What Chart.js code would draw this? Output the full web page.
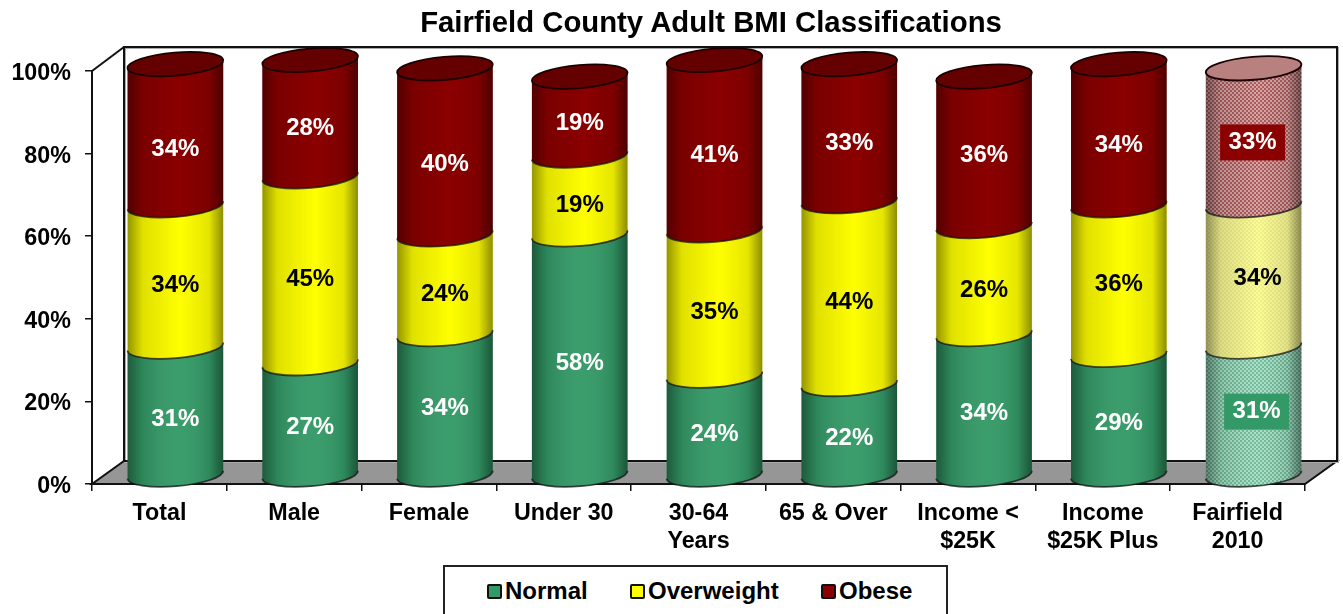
<!DOCTYPE html>
<html>
<head>
<meta charset="utf-8">
<title>Fairfield County Adult BMI Classifications</title>
<script src="https://cdn.jsdelivr.net/npm/chart.js@4/dist/chart.umd.min.js"></script>
<style>
  html, body { margin: 0; background: #fff; overflow: hidden; height: 614px; }
  #wrap { position: relative; width: 1343px; height: 614px; overflow: hidden; }
  #title {
    position: absolute; left: 311px; top: 5px; width: 800px; text-align: center;
    font: bold 29.3px/34px "Liberation Sans", Arial, sans-serif; color: #000; white-space: nowrap;
  }
  #legend {
    position: absolute; left: 443px; top: 565px; width: 505px; height: 60px;
    box-sizing: border-box; border: 2px solid #222; background: #fff;
    font: bold 24px "Liberation Sans", Arial, sans-serif; color: #000;
  }
  #legend span { position: absolute; top: 10px; line-height: 28px; }
  #legend i {
    position: absolute; top: 17px; width: 11px; height: 11px;
    border: 2px solid #111; border-radius: 2px;
  }
</style>
</head>
<body>
<div id="wrap">
  <canvas id="chart" width="1343" height="614"></canvas>
  <div id="title">Fairfield County Adult BMI Classifications</div>
  <div id="legend"></div>
</div>
<script>
const categories = ["Total", "Male", "Female", "Under 30", ["30-64", "Years"], "65 & Over", ["Income <", "$25K"], ["Income", "$25K Plus"], ["Fairfield", "2010"]];
const normal = [31, 27, 34, 58, 24, 22, 34, 29, 31];
const overweight = [34, 45, 24, 19, 35, 44, 26, 36, 34];
const obese = [34, 28, 40, 19, 41, 33, 36, 34, 33];
const seriesNames = ["Normal", "Overweight", "Obese"];
const seriesColors = ["#339966", "#ffff00", "#8b0000"];
const labelColors = ["#fff", "#000", "#fff"];

const FONT = '"Liberation Sans", Arial, sans-serif';
// 3d box offset of the back wall, cylinders sit half way in
const DEPTH_X = 32, DEPTH_Y = 23;
const RY = 11.5, TILT = -4.8 * Math.PI / 180;
// labels that were moved by hand in the original, "bar,series": dy
const labelNudge = { "0,2": 4, "2,0": -5, "2,2": 3, "3,2": -3, "6,2": -6, "7,1": -6 };

// Fairfield 2010 is drawn with a light dither
function dither(c1, c2) {
  const c = document.createElement("canvas");
  c.width = c.height = 4;
  const g = c.getContext("2d");
  g.fillStyle = c1; g.fillRect(0, 0, 4, 4);
  g.fillStyle = c2; g.fillRect(0, 0, 2, 2); g.fillRect(2, 2, 2, 2);
  return g.createPattern(c, "repeat");
}
const ctxMain = document.getElementById("chart").getContext("2d");
const ditherFills = [dither("#a9dfc6", "#6fba98"), dither("#fbfba6", "#f1f17c"), dither("#d2a8a8", "#b25c5c")];
const ditherTop = "#b98080";
const topColor = "#650000";
const lastIndex = categories.length - 1;

// the gray floor and the walls of the 3d box
const boxPlugin = {
  id: "box",
  beforeDatasetsDraw(chart) {
    const { ctx, chartArea: a } = chart;
    const bx = a.left + DEPTH_X, by = a.bottom - DEPTH_Y, ty = a.top - DEPTH_Y - 1;
    ctx.save();
    ctx.lineJoin = "miter";
    ctx.beginPath();
    ctx.moveTo(a.left, a.bottom); ctx.lineTo(a.right, a.bottom);
    ctx.lineTo(a.right + DEPTH_X, by); ctx.lineTo(bx, by); ctx.closePath();
    ctx.fillStyle = "#969696"; ctx.fill();
    ctx.strokeStyle = "#111"; ctx.lineWidth = 2; ctx.stroke();

    ctx.strokeStyle = "#aaa"; ctx.lineWidth = 2;
    ctx.strokeRect(bx + 1, ty + 1, a.right - a.left, by - ty);
    ctx.strokeStyle = "#111"; ctx.lineWidth = 2;
    ctx.strokeRect(bx, ty, a.right - a.left, by - ty);
    ctx.beginPath();
    ctx.moveTo(a.left, a.top); ctx.lineTo(bx, ty);
    ctx.stroke();
    ctx.restore();
  }
};

function arcPath(ctx, x, y, rx, from, to, ccw) {
  ctx.ellipse(x, y, rx, RY, TILT, from, to, ccw);
}

// pixel height of the cylinder axis, the projection is a bit flatter than the front plane
function cylY(chart, yPix) {
  const a = chart.chartArea;
  const frac = (a.bottom - yPix) / (a.bottom - a.top);
  return yPix - DEPTH_Y / 2 + 2.5 * (1 - frac) + 0.5;
}

function drawSegment(chart, el, fill, isTop, topFill, d) {
  const ctx = chart.ctx;
  const x = el.x + DEPTH_X / 2;
  const rx = el.width / 2;
  const y0 = cylY(chart, el.base);
  const y1 = cylY(chart, el.y);

  ctx.beginPath();
  arcPath(ctx, x, y0, rx, Math.PI, 0, true);
  arcPath(ctx, x, y1, rx, 0, Math.PI, true);
  ctx.closePath();
  ctx.fillStyle = fill;
  ctx.fill();

  const shade = ctx.createLinearGradient(x - rx, 0, x + rx, 0);
  shade.addColorStop(0, "rgba(0,0,0,.42)");
  shade.addColorStop(0.16, "rgba(0,0,0,.12)");
  shade.addColorStop(0.55, d === 0 ? "rgba(255,255,255,.04)" : "rgba(0,0,0,0)");
  shade.addColorStop(0.85, "rgba(0,0,0,.1)");
  shade.addColorStop(1, "rgba(0,0,0,.45)");
  ctx.fillStyle = shade;
  ctx.fill();

  ctx.strokeStyle = "rgba(20,20,20,.75)";
  ctx.lineWidth = 1.8;
  ctx.beginPath();
  arcPath(ctx, x, y0, rx, Math.PI, 0, true);
  ctx.stroke();

  if (isTop) {
    ctx.beginPath();
    arcPath(ctx, x, y1, rx, 0, Math.PI * 2);
    ctx.fillStyle = topFill;
    ctx.fill();
    ctx.strokeStyle = "#1a0000";
    ctx.stroke();
  }
}

// cylinders and percent labels, everything comes from the bar elements
const cylinderPlugin = {
  id: "cylinders",
  afterDatasetsDraw(chart) {
    const ctx = chart.ctx;
    ctx.save();
    categories.forEach((_, i) => {
      chart.data.datasets.forEach((ds, d) => {
        const el = chart.getDatasetMeta(d).data[i];
        const faded = i === lastIndex;
        const fill = faded ? ditherFills[d] : seriesColors[d];
        drawSegment(chart, el, fill, d === 2, faded ? ditherTop : topColor, d);
      });
    });
    ctx.font = "bold 24px " + FONT;
    ctx.textAlign = "center";
    ctx.textBaseline = "middle";
    categories.forEach((_, i) => {
      chart.data.datasets.forEach((ds, d) => {
        const el = chart.getDatasetMeta(d).data[i];
        let x = el.x + DEPTH_X / 2;
        let y = (el.y + el.base) / 2 + (labelNudge[i + "," + d] || 0);
        if (i === lastIndex) {
          x += [3, 4, -1][d];
          y += [-8, -7, -5][d];
          if (d !== 1) {
            ctx.fillStyle = seriesColors[d];
            ctx.fillRect(x - 32.5, y - 18, 65, 36);
          }
        }
        ctx.fillStyle = labelColors[d];
        ctx.fillText(ds.data[i] + "%", x, y);
      });
    });
    ctx.restore();
  }
};

new Chart(ctxMain, {
  type: "bar",
  data: {
    labels: categories,
    datasets: [normal, overweight, obese].map((values, d) => ({
      label: seriesNames[d],
      data: values,
      backgroundColor: "transparent",
      barPercentage: 0.712,
      categoryPercentage: 1
    }))
  },
  options: {
    responsive: false,
    animation: false,
    events: [],
    layout: { padding: { top: 71, right: 38 } },
    plugins: {
      legend: { display: false },
      tooltip: { enabled: false }
    },
    scales: {
      x: {
        stacked: true,
        afterFit(scale) { scale.height = 130; },
        grid: { drawOnChartArea: false, tickLength: 7, tickColor: "#111", lineWidth: 1.5 },
        border: { color: "#111", width: 2 },
        ticks: {
          color: "#000", maxRotation: 0, autoSkip: false, padding: 9,
          font: { family: FONT, size: 23.3, weight: "bold" }
        }
      },
      y: {
        stacked: true,
        min: 0,
        max: 100,
        afterFit(scale) { scale.width = 92; },
        grid: { drawOnChartArea: false, tickLength: 7, tickColor: "#111", lineWidth: 1.5 },
        border: { color: "#111", width: 2 },
        ticks: {
          color: "#000", stepSize: 20, padding: 14, labelOffset: 2.5,
          callback: v => v + "%",
          font: { family: FONT, size: 23.3, weight: "bold" }
        }
      }
    }
  },
  plugins: [boxPlugin, cylinderPlugin]
});

// html legend, same colours as the series
const legendBox = document.getElementById("legend");
const legendSpots = [42, 185, 376];
seriesNames.forEach((name, d) => {
  const swatch = document.createElement("i");
  swatch.style.left = legendSpots[d] + "px";
  swatch.style.background = seriesColors[d];
  const text = document.createElement("span");
  text.style.left = legendSpots[d] + 18 + "px";
  text.textContent = name;
  legendBox.append(swatch, text);
});
</script>
</body>
</html>
